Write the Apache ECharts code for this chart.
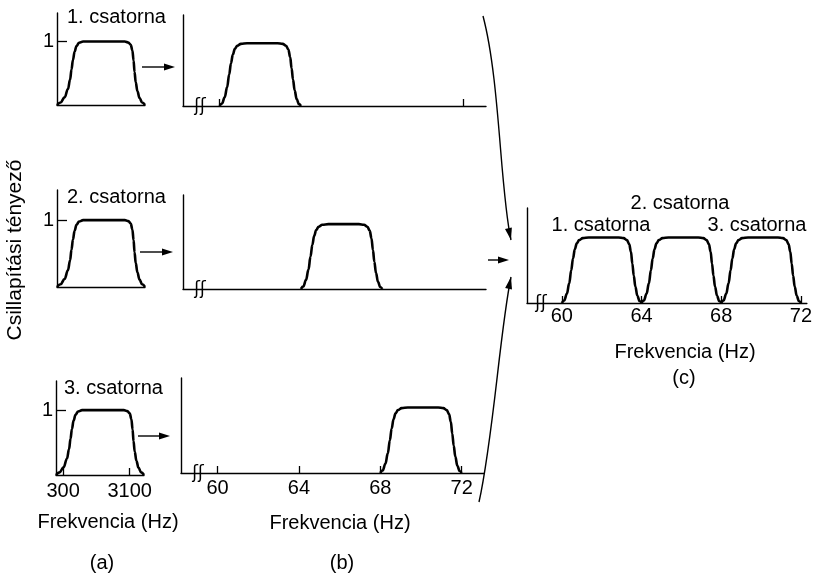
<!DOCTYPE html>
<html><head><meta charset="utf-8">
<script src="https://cdn.jsdelivr.net/npm/echarts@6/dist/echarts.min.js"></script>
<style>html,body{margin:0;padding:0;background:#fff}#c{width:815px;height:575px}</style>
</head><body><div id="c"></div>
<script>
// ---- data ----
const audioBand = [[0,0],[150,0.04],[320,0.12],[460,0.25],[550,0.4],[610,0.56],[670,0.71],[740,0.84],[820,0.93],[930,0.98],[1100,1],[2850,1],[3000,0.985],[3100,0.95],[3170,0.86],[3220,0.7],[3260,0.52],[3310,0.36],[3380,0.22],[3470,0.11],[3580,0.04],[3700,0]];
const channel1 = [[60,0],[60.12,0.04],[60.25,0.14],[60.37,0.3],[60.47,0.5],[60.56,0.68],[60.65,0.82],[60.75,0.91],[60.87,0.96],[61.05,0.99],[61.35,1],[62.85,1],[63.1,0.99],[63.27,0.96],[63.38,0.9],[63.47,0.78],[63.54,0.6],[63.61,0.42],[63.69,0.25],[63.79,0.11],[63.9,0.03],[64,0]];
const channel2 = [[64,0],[64.12,0.04],[64.25,0.14],[64.37,0.3],[64.47,0.5],[64.56,0.68],[64.65,0.82],[64.75,0.91],[64.87,0.96],[65.05,0.99],[65.35,1],[66.85,1],[67.1,0.99],[67.27,0.96],[67.38,0.9],[67.47,0.78],[67.54,0.6],[67.61,0.42],[67.69,0.25],[67.79,0.11],[67.9,0.03],[68,0]];
const channel3 = [[68,0],[68.12,0.04],[68.25,0.14],[68.37,0.3],[68.47,0.5],[68.56,0.68],[68.65,0.82],[68.75,0.91],[68.87,0.96],[69.05,0.99],[69.35,1],[70.85,1],[71.1,0.99],[71.27,0.96],[71.38,0.9],[71.47,0.78],[71.54,0.6],[71.61,0.42],[71.69,0.25],[71.79,0.11],[71.9,0.03],[72,0]];
const audioTicks = [300, 3100];
const carrierTicks = [60, 64, 68, 72];
const row1Ticks = [60, 72];
const unityTick = [1];
const channelNames = ['1. csatorna', '2. csatorna', '3. csatorna'];
const xTitle = 'Frekvencia (Hz)';
const yTitle = 'Csillapítási tényező';
const panelLabels = ['(a)', '(b)', '(c)'];

// ---- layout / style ----
const FONT = '"Liberation Sans", Arial, Helvetica, sans-serif';
const FS = 20;
const grids = [
  {left: 57, top: 13, width: 88, height: 92},   // a1
  {left: 57, top: 190, width: 88, height: 97},  // a2
  {left: 56, top: 381, width: 88, height: 94},  // a3
  {left: 183, top: 15, width: 303, height: 91}, // b1
  {left: 183, top: 195, width: 303, height: 94},// b2
  {left: 181, top: 378, width: 303, height: 95},// b3
  {left: 527, top: 208, width: 281, height: 95} // c
];
const axisLine = {show: true, onZero: false, lineStyle: {color: '#000', width: 1.4}};
const plain = v => String(v);

function xAx(gi, min, max, tickVals, labelVals, margin) {
  return {
    type: 'value', gridIndex: gi, min: min, max: max,
    axisLine: axisLine,
    splitLine: {show: false},
    axisTick: tickVals ? {show: true, inside: true, length: 7, lineStyle: {color: '#000', width: 1.3}, customValues: tickVals} : {show: false},
    axisLabel: labelVals ? {show: true, customValues: labelVals, formatter: plain, margin: margin, color: '#000', fontSize: FS, fontFamily: FONT} : {show: false}
  };
}
function yAx(gi, withUnit) {
  return {
    type: 'value', gridIndex: gi, min: 0, max: 1.45,
    axisLine: axisLine,
    splitLine: {show: false},
    axisTick: withUnit ? {show: true, inside: true, length: 10, lineStyle: {color: '#000', width: 1.3}, customValues: unityTick} : {show: false},
    axisLabel: withUnit ? {show: true, customValues: unityTick, formatter: plain, margin: 3, color: '#000', fontSize: FS, fontFamily: FONT} : {show: false}
  };
}
const xAxes = [
  xAx(0, 0, 3700, null, null),
  xAx(1, 0, 3700, null, null),
  xAx(2, 0, 3700, audioTicks, audioTicks, 6),
  xAx(3, 58.2, 73.1, row1Ticks, null),
  xAx(4, 58.2, 73.1, null, null),
  xAx(5, 58.2, 73.1, carrierTicks, carrierTicks, 5),
  xAx(6, 58.25, 72.3, carrierTicks, carrierTicks, 3)
];
const yAxes = [yAx(0, true), yAx(1, true), yAx(2, true), yAx(3), yAx(4), yAx(5), yAx(6)];

function curve(data, idx) {
  return {
    type: 'line', data: data, xAxisIndex: idx, yAxisIndex: idx,
    showSymbol: false, smooth: 0.4, smoothMonotone: 'x', silent: true,
    lineStyle: {color: '#000', width: 2.6}, clip: false
  };
}
const series = [
  curve(audioBand, 0), curve(audioBand, 1), curve(audioBand, 2),
  curve(channel1, 3), curve(channel2, 4), curve(channel3, 5),
  curve(channel1, 6), curve(channel2, 6), curve(channel3, 6)
];

function txt(x, y, s, align, extra, size) {
  return Object.assign({type: 'text', x: x, y: y, silent: true,
    style: {text: s, fill: '#000', font: (size || FS) + 'px ' + FONT, align: align || 'center', verticalAlign: 'middle'}}, extra || {});
}
function arrowHead(tx, ty, dx, dy, len, half) {
  const L = Math.hypot(dx, dy), ux = dx / L, uy = dy / L;
  const bx = tx - ux * len, by = ty - uy * len;
  return {type: 'polygon', silent: true, shape: {points: [[tx, ty], [bx - uy * half, by + ux * half], [bx + uy * half, by - ux * half]]}, style: {fill: '#000'}};
}
function straightArrow(x1, x2, y) {
  return [
    {type: 'line', silent: true, shape: {x1: x1, y1: y, x2: x2 - 8, y2: y}, style: {stroke: '#000', lineWidth: 1.4}},
    arrowHead(x2, y, 1, 0, 11, 3.5)
  ];
}
function curvedArrow(p0, c1, c2, p2) {
  return [
    {type: 'bezierCurve', silent: true, shape: {x1: p0[0], y1: p0[1], cpx1: c1[0], cpy1: c1[1], cpx2: c2[0], cpy2: c2[1], x2: p2[0], y2: p2[1]}, style: {stroke: '#000', lineWidth: 1.4, fill: null}},
    arrowHead(p2[0], p2[1], p2[0] - c2[0], p2[1] - c2[1], 12, 3.5)
  ];
}
function brk(x, y) {
  return {type: 'text', x: x, y: y, silent: true, style: {text: 'ʃʃ', fill: '#000', font: '17px "DejaVu Sans", sans-serif', align: 'center', verticalAlign: 'middle'}};
}

const graphic = [
  txt(67, 17, channelNames[0], 'left'),
  txt(67, 197, channelNames[1], 'left'),
  txt(64, 388, channelNames[2], 'left'),
  txt(108, 522, xTitle),
  txt(340, 523, xTitle),
  txt(685, 352, xTitle),
  txt(102, 563, panelLabels[0]),
  txt(342, 563, panelLabels[1]),
  txt(684, 378, panelLabels[2]),
  txt(680, 203, channelNames[1]),
  txt(601, 225, channelNames[0]),
  txt(757, 225, channelNames[2]),
  txt(15, 250, yTitle, 'center', {rotation: Math.PI / 2}, 21),
  brk(200, 107), brk(200, 290), brk(198, 474), brk(541, 304)
].concat(
  straightArrow(142, 175, 67),
  straightArrow(140, 173, 252),
  straightArrow(138, 170, 436),
  straightArrow(488, 509, 260),
  curvedArrow([483, 16], [500, 80], [500, 190], [511, 240]),
  curvedArrow([479, 502], [493, 440], [500, 330], [511, 277])
);

const chart = echarts.init(document.getElementById('c'), null, {renderer: 'canvas'});
chart.setOption({
  animation: false,
  backgroundColor: '#fff',
  grid: grids.map(g => Object.assign({containLabel: false}, g)),
  xAxis: xAxes,
  yAxis: yAxes,
  series: series,
  graphic: graphic
});
</script></body></html>
